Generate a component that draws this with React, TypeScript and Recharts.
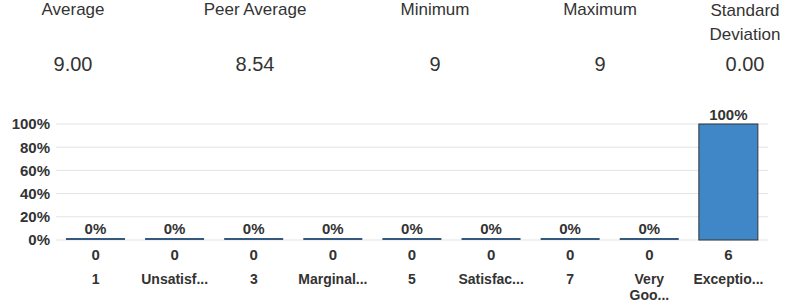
import React from "react";
import {
  BarChart, Bar, XAxis, YAxis, CartesianGrid, LabelList,
} from "recharts";

const FONT = "'Liberation Sans', Arial, sans-serif";

// header stats
const STAT_LABELS = ["Average", "Peer Average", "Minimum", "Maximum", "Standard Deviation"];
const STAT_VALUES = ["9.00", "8.54", "9", "9", "0.00"];
const STAT_X = [73, 255, 435, 600, 745];

// distribution
const CATEGORIES = ["1", "Unsatisf...", "3", "Marginal...", "5", "Satisfac...", "7", "Very Goo...", "Exceptio..."];
const COUNTS = [0, 0, 0, 0, 0, 0, 0, 0, 6];
const PERCENTS = [0, 0, 0, 0, 0, 0, 0, 0, 100];
const Y_TICKS = [0, 20, 40, 60, 80, 100];

const data = CATEGORIES.map((name, i) => ({
  name,
  count: COUNTS[i],
  pct: PERCENTS[i],
}));

// zero bars come through with minPointSize and are drawn as a thin line on the baseline
const BarShape = (props: any) => {
  const { x, y, width, height, payload } = props;
  if (!payload || payload.pct === 0) {
    return <rect x={x} y={y + height - 2} width={width} height={2} fill="#34597c" />;
  }
  return (
    <rect x={x} y={y} width={width} height={height} fill="#3f87c7" stroke="#333" strokeWidth={1} />
  );
};

const XTick = (props: any) => {
  const { x, y, index } = props;
  const row = data[index];
  const lines = row.name.includes(" ") ? row.name.split(" ") : [row.name];
  return (
    <g transform={`translate(${x},${y})`}>
      <text x={0} y={12} textAnchor="middle" fontSize={15} fontWeight="bold" fill="#333" fontFamily={FONT}>
        {row.count}
      </text>
      {lines.map((l: string, k: number) => (
        <text key={k} x={0} y={36 + k * 16} textAnchor="middle" fontSize={14} fontWeight="bold" fill="#333" fontFamily={FONT}>
          {l}
        </text>
      ))}
    </g>
  );
};

export default function App() {
  return (
    <div style={{ position: "absolute", left: 0, top: 0, width: 797, height: 306, background: "#fff", fontFamily: FONT }}>
      {STAT_LABELS.map((label, i) => (
        <div key={label} style={{ position: "absolute", left: STAT_X[i] - 70, width: 140, top: -1, textAlign: "center", fontSize: 17, lineHeight: i === 4 ? "24px" : "22px", color: "#333" }}>
          {i === 4
            ? label.split(" ").map((w) => <div key={w}>{w}</div>)
            : label}
        </div>
      ))}
      {STAT_VALUES.map((v, i) => (
        <div key={i} style={{ position: "absolute", left: STAT_X[i] - 70, width: 140, top: 52, textAlign: "center", fontSize: 20, lineHeight: "24px", color: "#333" }}>
          {v}
        </div>
      ))}
      <div style={{ position: "absolute", left: 0, top: 0 }}>
        <BarChart
          width={797}
          height={306}
          data={data}
          margin={{ top: 124, right: 29, bottom: 6, left: 6 }}
          barCategoryGap="12.6%"
        >
          <CartesianGrid vertical={false} stroke="#e3e3e3" />
          <XAxis
            dataKey="name"
            interval={0}
            height={60}
            tickLine={false}
            axisLine={false}
            tick={<XTick />}
          />
          <YAxis
            width={50}
            domain={[0, 100]}
            ticks={Y_TICKS}
            tickFormatter={(v) => `${v}%`}
            axisLine={false}
            tickLine={false}
            tickSize={0}
            tickMargin={6}
            tick={{ fontSize: 15, fontWeight: "bold", fill: "#333", fontFamily: FONT }}
          />
          <Bar dataKey="pct" isAnimationActive={false} minPointSize={2} shape={<BarShape />}>
            <LabelList
              dataKey="pct"
              position="top"
              offset={4}
              formatter={(v: any) => `${v}%`}
              style={{ fontSize: 15, fontWeight: "bold", fill: "#333", fontFamily: FONT }}
            />
          </Bar>
        </BarChart>
      </div>
    </div>
  );
}
